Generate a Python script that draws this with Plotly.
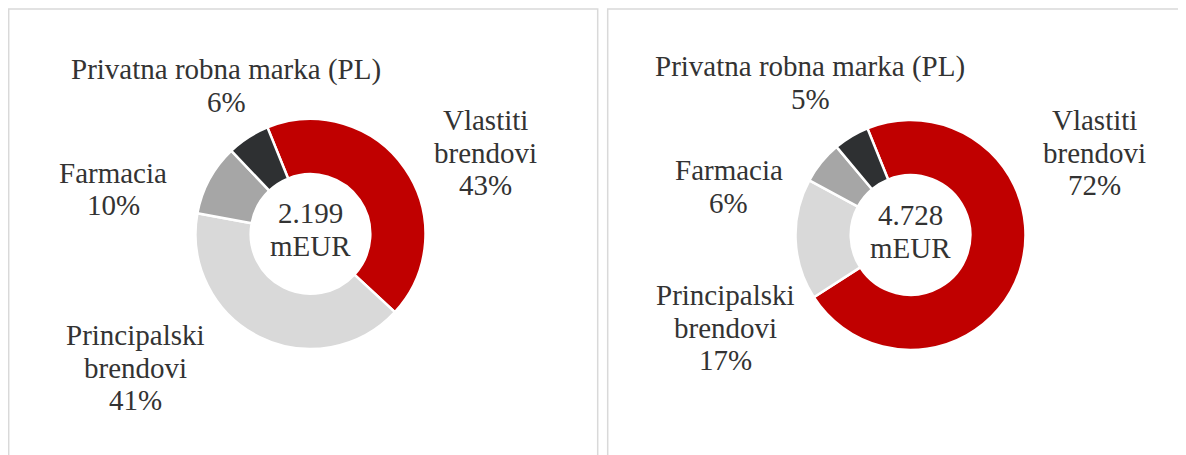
import plotly.graph_objects as go

# ---- data ----
categories = ["Vlastiti brendovi", "Principalski brendovi", "Farmacia", "Privatna robna marka (PL)"]
label_lines = [["Vlastiti", "brendovi"], ["Principalski", "brendovi"], ["Farmacia"], ["Privatna robna marka (PL)"]]
left_values = [43, 41, 10, 6]
right_values = [72, 17, 6, 5]
left_total = "2.199"
right_total = "4.728"
unit = "mEUR"
colors = ["#c00000", "#d9d9d9", "#a6a6a6", "#2e3032"]

OFF = 8  # page body margin
W, H = 1186 - OFF, 455 - OFF
FONT = "Liberation Serif"
TXT = "#333333"
FS = 29

def px(x):
    return (x - OFF) / W

def py(y):
    return 1 - (y - OFF) / H

fig = go.Figure()

def add_donut(values, cx, cy, r):
    fig.add_trace(go.Pie(
        labels=categories, values=values, sort=False, direction="clockwise",
        rotation=-22, hole=0.52, textinfo="none", hoverinfo="label+percent",
        marker=dict(colors=colors, line=dict(color="white", width=2.5)),
        domain=dict(x=[px(cx - r), px(cx + r)], y=[py(cy + r), py(cy - r)]),
        showlegend=False,
    ))

add_donut(left_values, 310.5, 234, 115)
add_donut(right_values, 910.5, 235, 115)

# label placement: x centre and y of first line, line step
left_pos = [(485, 120), (135, 335), (113, 172.5), (226, 69.5)]
right_pos = [(1094, 120), (725, 295), (729, 170.5), (810, 66.5)]
STEP = 32.5

def text_line(x, y, s):
    fig.add_annotation(x=px(x), y=py(y), xref="paper", yref="paper",
                       text=s, showarrow=False, xanchor="center", yanchor="middle",
                       font=dict(family=FONT, size=FS, color=TXT))

def add_labels(values, positions):
    for lines, v, (x, y) in zip(label_lines, values, positions):
        for i, s in enumerate(lines + [f"{v}%"]):
            text_line(x, y + i * STEP, s)

add_labels(left_values, left_pos)
add_labels(right_values, right_pos)

for total, (x, y) in [(left_total, (310.5, 213)), (right_total, (910.5, 214.5))]:
    text_line(x, y, total)
    text_line(x, y + 33.5, unit)

fig.add_shape(type="rect", xref="paper", yref="paper",
              x0=px(8.7), x1=px(597.7), y0=py(470), y1=py(9),
              line=dict(color="#d9d9d9", width=1.5), fillcolor="rgba(0,0,0,0)")
fig.add_shape(type="rect", xref="paper", yref="paper",
              x0=px(607.7), x1=px(1200), y0=py(470), y1=py(9),
              line=dict(color="#d9d9d9", width=1.5), fillcolor="rgba(0,0,0,0)")

fig.update_layout(width=W, height=H, margin=dict(l=0, r=0, t=0, b=0),
                  paper_bgcolor="white", plot_bgcolor="white")

fig.write_html("out.html")
